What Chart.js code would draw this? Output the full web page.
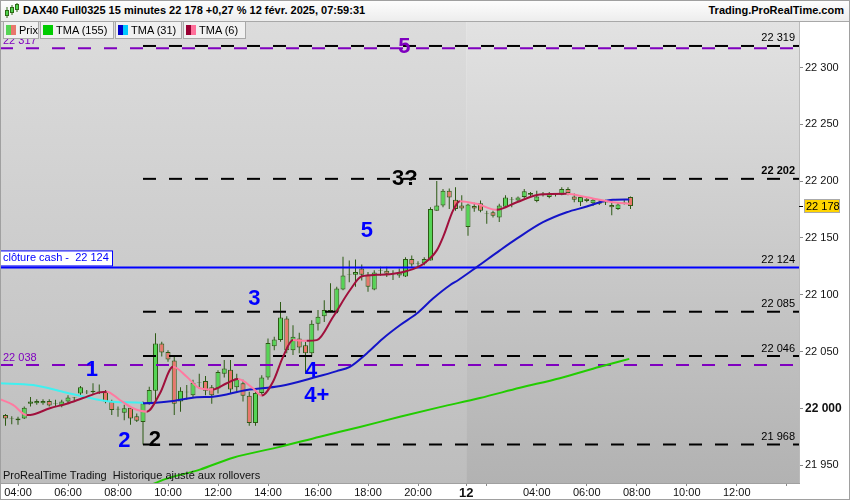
<!DOCTYPE html>
<html>
<head>
<meta charset="utf-8">
<title>DAX40 Full0325 15 minutes</title>
<script src="https://cdn.jsdelivr.net/npm/chart.js@4.4.1/dist/chart.umd.min.js"></script>
<style>
    body { margin: 0; width: 850px; height: 500px; overflow: hidden; background: #fff; position: relative;
           font-family: "Liberation Sans", Arial, sans-serif; color: #000; }
    #header { position: absolute; left: 0; top: 0; width: 850px; height: 21px;
              background: linear-gradient(#fefefe, #ededed); border-bottom: 1px solid #a8a8a8; }
    #icon { position: absolute; left: 4px; top: 3px; }
    #title { position: absolute; left: 23px; top: 4px; font-size: 11px; font-weight: bold; }
    #site { position: absolute; right: 6px; top: 4px; font-size: 11px; font-weight: bold; }
    #legend { position: absolute; left: 3px; top: 22px; display: flex; z-index: 2; }
    .item { height: 17px; box-sizing: border-box; border: 1px solid #a8a8a8; border-top: none;
            background: #f1f1f1; font-size: 11px; display: flex; align-items: center;
            padding-left: 2px; margin-right: 1px; white-space: nowrap; }
    .sw { width: 10px; height: 10px; display: flex; margin-right: 3px; }
    .sw span { flex: 1; }
    #chartBox { position: absolute; left: 0; top: 22px; }
    #frame { position: absolute; left: 0; top: 0; width: 850px; height: 500px; box-sizing: border-box;
             border: 1px solid #a0a0a0; pointer-events: none; z-index: 3; }
</style>
</head>
<body>
<div id="header">
    <svg id="icon" width="15" height="16">
        <line x1="3" y1="4" x2="3" y2="15" stroke="#2d6a14"/><rect x="1.5" y="7.5" width="3" height="5" fill="#4fd34f" stroke="#2d6a14"/>
        <line x1="8" y1="2" x2="8" y2="12" stroke="#2d6a14"/><rect x="6.5" y="4.5" width="3" height="5" fill="#4fd34f" stroke="#2d6a14"/>
        <line x1="13" y1="0" x2="13" y2="9" stroke="#2d6a14"/><rect x="11.5" y="1.5" width="3" height="5" fill="#4fd34f" stroke="#2d6a14"/>
    </svg>
    <div id="title">DAX40 Full0325 15 minutes 22 178 +0,27 % 12 févr. 2025, 07:59:31</div>
    <div id="site">Trading.ProRealTime.com</div>
</div>
<div id="legend">
    <div class="item" style="width:36px"><div class="sw"><span style="background:#55d455"></span><span style="background:#e8776c"></span></div>Prix</div>
    <div class="item" style="width:74px"><div class="sw"><span style="background:#00cc00"></span><span style="background:#00cc00"></span></div>TMA (155)</div>
    <div class="item" style="width:67px"><div class="sw"><span style="background:#0000c8"></span><span style="background:#00c8ff"></span></div>TMA (31)</div>
    <div class="item" style="width:63px"><div class="sw"><span style="background:#990033"></span><span style="background:#ff6f9a"></span></div>TMA (6)</div>
</div>
<div id="chartBox"><canvas id="chart" width="850" height="478"></canvas></div>
<div id="frame"></div>

<script>
// ---- candles (15 min, index 0 = 11 févr. 03:30) ----
const opens = [
    21994, 21990.5, 21989.5, 21991, 22004, 22004.5, 22004.5, 22006.5, 22004, 22002.5,
    22006, 22009, 22013, 22014, 22014, 22014.5, 22014.5, 22006, 21999, 21996,
    22000.5, 21993, 21988, 22004.5, 22015.5, 22057, 22049.5, 22042, 22006, 22014,
    22011.5, 22022.5, 22024, 22018.5, 22017.5, 22030.5, 22034, 22018.5, 22022, 22011,
    21987, 22013.5, 22027, 22054.5, 22060, 22079, 22051, 22061.5, 22055.5, 22048.5,
    22074.5, 22081, 22085, 22085, 22104.5, 22117.5, 22117.5, 22123, 22117.5, 22104.5,
    22121, 22121, 22118.5, 22117, 22116, 22131.5, 22127.5, 22127.5, 22130, 22174,
    22178.5, 22191.5, 22183.5, 22178.5, 22159.5, 22178, 22180.5, 22171.5, 22172.5, 22168,
    22177.5, 22183.5, 22183, 22186, 22189.5, 22182.5, 22188.5, 22186, 22188, 22188,
    22193, 22186.5, 22181.5, 22184.5, 22180.5, 22181.5, 22181, 22179, 22175.5, 22181,
    22186
];
const highs = [
    21995, 21993, 21992.5, 22001.5, 22010, 22008, 22008, 22008, 22007.5, 22007.5,
    22011.5, 22010, 22019.5, 22016, 22022, 22021, 22016, 22007.5, 22001.5, 22003,
    22001.5, 21995.5, 22006, 22019, 22066, 22058.5, 22051, 22045.5, 22018.5, 22020.5,
    22025, 22030.5, 22028.5, 22020.5, 22033.5, 22042.5, 22042.5, 22030.5, 22025, 22014.5,
    22016, 22029, 22061.5, 22063, 22093.5, 22081, 22073, 22066.5, 22058.5, 22077.5,
    22086.5, 22095, 22110, 22107, 22133.5, 22130, 22131, 22126.5, 22120, 22121.5,
    22124.5, 22124.5, 22121.5, 22123, 22133, 22134.5, 22129.5, 22133, 22177, 22200,
    22193, 22193.5, 22194.5, 22187.5, 22180, 22181, 22183, 22174, 22174, 22180,
    22187.5, 22186, 22186.5, 22193, 22190.5, 22191.5, 22190.5, 22190.5, 22189.5, 22194.5,
    22194.5, 22189, 22187.5, 22186, 22185, 22183.5, 22183.5, 22182.5, 22181, 22183.5,
    22186.5
];
const lows = [
    21984.5, 21986, 21985.5, 21990.5, 22001.5, 22003, 22003, 22001.5, 22001.5, 22001,
    22004.5, 22006, 22011.5, 22012.5, 22012.5, 22012.5, 22004.5, 21994, 21992.5, 21989.5,
    21985.5, 21988, 21968, 22003, 22006, 22045.5, 22041, 21994, 21997, 22007.5,
    22010, 22017.5, 22011.5, 22004, 22013, 22027, 22012.5, 22014.5, 22006, 21984.5,
    21984.5, 22011.5, 22025, 22051, 22058.5, 22048.5, 22047, 22048.5, 22030.5, 22045.5,
    22068.5, 22076, 22084.5, 22083.5, 22104, 22111, 22107, 22112.5, 22102.5, 22104,
    22117, 22115.5, 22113, 22115, 22115.5, 22124.5, 22124.5, 22126, 22130, 22174,
    22177, 22175.5, 22174, 22174, 22152, 22173, 22172.5, 22162.5, 22168, 22164,
    22177, 22177, 22182, 22185, 22187, 22181.5, 22186.5, 22185, 22186.5, 22187.5,
    22187.5, 22181.5, 22178, 22181.5, 22178, 22179, 22179, 22170, 22174.5, 22179.5,
    22175.5
];
const closes = [
    21991, 21991, 21991, 22000.5, 22006, 22006.5, 22006.5, 22002.5, 22004.5, 22006,
    22009.5, 22009.5, 22018.5, 22014.5, 22015.5, 22015, 22006, 21998.5, 21999.5, 22000,
    21991, 21989, 22004.5, 22016, 22057, 22049, 22043, 22004, 22015.5, 22014.5,
    22022.5, 22023, 22015.5, 22011.5, 22032, 22035, 22016.5, 22026.5, 22011, 21987,
    22013.5, 22027, 22057.5, 22060.5, 22080, 22051, 22063, 22053.5, 22048.5, 22074.5,
    22080.5, 22086.5, 22086.5, 22105.5, 22117, 22118, 22120, 22117.5, 22107, 22119.5,
    22121.5, 22118.5, 22119, 22119.5, 22131.5, 22126.5, 22128, 22131.5, 22175.5, 22178.5,
    22191.5, 22185.5, 22175.5, 22176, 22179.5, 22176, 22174, 22172, 22169.5, 22178.5,
    22185.5, 22184, 22185.5, 22191, 22188, 22186.5, 22189, 22189, 22188.5, 22193,
    22189.5, 22183.5, 22186, 22182.5, 22183.5, 22180, 22181.5, 22177, 22179.5, 22181.5,
    22178
];

// ---- moving averages: [candle index, value] ----
const tma155 = [
    [23.5, 21933], [25.2, 21937], [31.1, 21946], [36.4, 21956.5], [43.9, 21966], [50.3, 21975],
    [56.7, 21983.5], [63.1, 21992.5], [69.5, 22001], [75.9, 22009], [82.3, 22018], [88.7, 22026.5],
    [95.1, 22036.5], [99.8, 22043.5]
];
const tma31 = [
    [-0.9, 22022], [4.4, 22020.5], [9.8, 22013.7], [15.1, 22007.3], [18.3, 22005.3], [21.8, 22004.9],
    [22, 22004.4], [26.8, 22006.4], [30.6, 22009.7], [33.2, 22010.2], [38.6, 22016.1], [44, 22019.6],
    [49.8, 22027.7], [53, 22032.7], [55.1, 22036.5], [57.8, 22048.3], [60.4, 22061.5], [63.1, 22073.1],
    [65.8, 22083.4], [68.4, 22096.6], [71.1, 22108.3], [72.4, 22112.7], [75.4, 22124.3], [79.1, 22139],
    [81.8, 22149.3], [86, 22163.8], [89.8, 22172.6], [93, 22177.6], [95.1, 22181.4], [97.2, 22183.5],
    [99.8, 22183.8]
];
const tma6 = [
    [-0.9, 22008], [1.2, 22003], [3.4, 21994], [4.4, 21994.5], [7.1, 22000], [9.8, 22004],
    [12.4, 22009], [15.1, 22014], [16.2, 22014.6], [18.3, 22007.3], [20.4, 22000], [22.6, 21997],
    [24.7, 22013], [26.8, 22036.5], [29, 22027.7], [31.1, 22017.6], [33.2, 22016.5], [35.4, 22022],
    [37.2, 22025.7], [39.6, 22017.6], [41, 22011.2], [42.8, 22023.4], [44.4, 22045.3], [46, 22060],
    [48.2, 22059.4], [49.8, 22060], [52.4, 22080.4], [55.1, 22103.9], [57, 22116.2], [59.4, 22117.5],
    [61.5, 22118], [64.2, 22120.8], [66.9, 22127.3], [69, 22139], [70.1, 22152], [71.6, 22174],
    [72.7, 22182.3], [75.4, 22180], [78.6, 22174.7], [81.8, 22181.4], [85.5, 22188.2], [89.8, 22188.8],
    [93, 22185.8], [97.2, 22181.4], [99.8, 22180]
];

// ---- levels ----
const blackLevels = [22319, 22202, 22085, 22046, 21968];
const blackBold = [false, true, false, false, false];
const blackStart = 22;
const purpleLevels = [22317, 22038];
const cashLevel = 22124;
const lastPrice = 22178;

// ---- hand written marks on the chart ----
const noteText = ['5', '3?', '5', '3', '1', '4', '4+', '2', '2'];
const noteIdx = [63.8, 63.9, 57.8, 39.8, 13.8, 48.9, 49.8, 19, 23.9];
const noteVal = [22318, 22202, 22156.5, 22096, 22033.5, 22032.5, 22011, 21971.5, 21972];
const noteColor = ['#7f00bf', '#000', '#0000ff', '#0000ff', '#0000ff', '#0000ff', '#0000ff', '#0000ff', '#000'];

// ---- axes ----
const xTickPos = [2, 10, 18, 26, 34, 42, 50, 58, 66, 73.7, 77, 85, 93, 101, 109, 117, 125];
const xTickLabels = ['04:00', '06:00', '08:00', '10:00', '12:00', '14:00', '16:00', '18:00', '20:00',
                     '12', '', '04:00', '06:00', '08:00', '10:00', '12:00', ''];
const yTicks = [21950, 22000, 22050, 22100, 22150, 22200, 22250, 22300];
const X_MIN = -0.88, X_MAX = 126.96;
const Y_MIN = 21934.2, Y_MAX = 22340.1;
const dayBreak = 73.7;

const FONT = '"Liberation Sans", Arial, sans-serif';
const UP = '#55d455', DOWN = '#e8776c', EDGE = '#2d5a14';

function fmt(v) {
    return String(Math.round(v)).replace(/\B(?=(\d{3})+(?!\d))/g, ' ');
}

const idx = closes.map((c, i) => i);
const pts = arr => arr.map(p => ({ x: p[0], y: p[1] }));
const levelLine = (v, from) => [{ x: from, y: v }, { x: X_MAX, y: v }];

const datasets = [];

// moving averages (drawn on top)
datasets.push({
    type: 'line', data: pts(tma6), borderWidth: 2, pointRadius: 0, order: 1,
    cubicInterpolationMode: 'monotone',
    segment: { borderColor: c => c.p1.parsed.y >= c.p0.parsed.y ? '#a0103c' : '#ff7aa0' }
});
datasets.push({
    type: 'line', data: pts(tma31), borderWidth: 2, pointRadius: 0, order: 2,
    cubicInterpolationMode: 'monotone',
    segment: { borderColor: c => c.p1.parsed.y >= c.p0.parsed.y ? '#1414c8' : '#40f0f0' }
});
datasets.push({
    type: 'line', data: pts(tma155), borderWidth: 2, pointRadius: 0, order: 3,
    borderColor: '#22cc00', cubicInterpolationMode: 'monotone'
});

// horizontal levels
blackLevels.forEach(v => datasets.push({
    type: 'line', data: levelLine(v, blackStart), borderColor: '#000', borderWidth: 2,
    borderDash: [13, 13], pointRadius: 0, order: 5
}));
purpleLevels.forEach(v => datasets.push({
    type: 'line', data: levelLine(v, X_MIN), borderColor: '#7f00bf', borderWidth: 2,
    borderDash: [13, 13], pointRadius: 0, order: 6
}));
datasets.push({
    type: 'line', data: levelLine(cashLevel, X_MIN), borderColor: '#0000ff', borderWidth: 2,
    pointRadius: 0, order: 4
});

// candles: wick + body as floating bars
datasets.push({
    type: 'bar', data: idx.map(i => ({ x: i, y: [lows[i], highs[i]] })),
    backgroundColor: EDGE, grouped: false, maxBarThickness: 1, order: 11
});
datasets.push({
    type: 'bar', data: idx.map(i => ({ x: i, y: [opens[i], closes[i]] })),
    backgroundColor: idx.map(i => closes[i] >= opens[i] ? UP : DOWN),
    borderColor: EDGE, borderWidth: 1, borderSkipped: false, grouped: false,
    barPercentage: 1, categoryPercentage: 0.8, order: 10
});

const background = {
    id: 'background',
    beforeDraw(chart) {
        const { ctx, chartArea: a } = chart;
        const split = chart.scales.x.getPixelForValue(dayBreak);
        let g = ctx.createLinearGradient(0, a.top, 0, a.bottom);
        g.addColorStop(0, '#dcdcdc');
        g.addColorStop(1, '#bdbdbd');
        ctx.fillStyle = g;
        ctx.fillRect(a.left, a.top, split - a.left, a.bottom - a.top);
        g = ctx.createLinearGradient(0, a.top, 0, a.bottom);
        g.addColorStop(0, '#e2e2e2');
        g.addColorStop(1, '#b2b2b2');
        ctx.fillStyle = g;
        ctx.fillRect(split, a.top, a.right - split, a.bottom - a.top);
    }
};

const texts = {
    id: 'texts',
    afterDatasetsDraw(chart) {
        const { ctx, chartArea: a, scales: { x, y } } = chart;
        ctx.save();
        // level values on the right
        ctx.textAlign = 'right';
        ctx.textBaseline = 'bottom';
        ctx.fillStyle = '#000';
        blackLevels.forEach((v, k) => {
            ctx.font = (blackBold[k] ? 'bold ' : '') + '11px ' + FONT;
            ctx.fillText(fmt(v), a.right - 4, y.getPixelForValue(v) - 2);
        });
        ctx.font = '11px ' + FONT;
        ctx.fillText(fmt(cashLevel), a.right - 4, y.getPixelForValue(cashLevel) - 2);

        // purple values on the left
        ctx.textAlign = 'left';
        ctx.fillStyle = '#7f00bf';
        purpleLevels.forEach(v => ctx.fillText(fmt(v), 3, y.getPixelForValue(v) - 2));

        // cash close box
        const cy = y.getPixelForValue(cashLevel);
        ctx.fillStyle = '#fff';
        ctx.fillRect(a.left + 0.5, cy - 16.5, 112, 15);
        ctx.strokeStyle = '#0000ff';
        ctx.lineWidth = 1;
        ctx.strokeRect(a.left + 0.5, cy - 16.5, 112, 15);
        ctx.fillStyle = '#0000ff';
        ctx.textBaseline = 'middle';
        ctx.fillText('clôture cash -  ' + fmt(cashLevel), a.left + 3, cy - 9);

        // hand written marks
        ctx.textAlign = 'center';
        ctx.font = 'bold 22px ' + FONT;
        noteText.forEach((t, k) => {
            ctx.fillStyle = noteColor[k];
            ctx.fillText(t, x.getPixelForValue(noteIdx[k]), y.getPixelForValue(noteVal[k]));
        });

        // footer note
        ctx.textAlign = 'left';
        ctx.font = '11px ' + FONT;
        ctx.fillStyle = '#111';
        ctx.fillText('ProRealTime Trading  Historique ajusté aux rollovers', a.left + 3, a.bottom - 7);
        ctx.restore();
    },
    afterDraw(chart) {
        const { ctx, chartArea: a, scales: { y } } = chart;
        const py = Math.round(y.getPixelForValue(lastPrice));
        ctx.save();
        ctx.strokeStyle = '#bbb';
        ctx.lineWidth = 1;
        ctx.beginPath();
        ctx.moveTo(a.right + 0.5, 0); ctx.lineTo(a.right + 0.5, a.bottom);
        ctx.stroke();
        ctx.strokeStyle = '#000';
        ctx.beginPath();
        ctx.moveTo(a.right, py + 0.5); ctx.lineTo(a.right + 4, py + 0.5);
        ctx.stroke();
        ctx.fillStyle = '#ffd400';
        ctx.fillRect(a.right + 5.5, py - 6.5, 35, 13);
        ctx.strokeStyle = '#aaa';
        ctx.strokeRect(a.right + 5.5, py - 6.5, 35, 13);
        ctx.fillStyle = '#000';
        ctx.font = '11px ' + FONT;
        ctx.textAlign = 'left';
        ctx.textBaseline = 'middle';
        ctx.fillText(fmt(lastPrice), a.right + 7, py + 0.5);
        ctx.restore();
    }
};

new Chart(document.getElementById('chart'), {
    type: 'bar',
    data: { datasets: datasets },
    options: {
        responsive: false,
        animation: false,
        events: [],
        layout: { padding: 0 },
        plugins: { legend: { display: false }, tooltip: { enabled: false } },
        scales: {
            x: {
                type: 'linear', min: X_MIN, max: X_MAX, offset: false,
                grid: { drawOnChartArea: false, offset: false, tickLength: 3, color: '#888' },
                border: { color: '#a0a0a0' },
                afterBuildTicks: s => { s.ticks = xTickPos.map(v => ({ value: v })); },
                afterFit: s => { s.height = 17; s.paddingLeft = 0; s.paddingRight = 0; },
                ticks: {
                    autoSkip: false, maxRotation: 0, padding: 0, color: '#111',
                    callback: (v, i) => xTickLabels[i],
                    font: c => ({ family: FONT, size: xTickLabels[c.index] === '12' ? 13 : 11,
                                  weight: xTickLabels[c.index] === '12' ? 'bold' : 'normal' })
                }
            },
            y: {
                position: 'right', min: Y_MIN, max: Y_MAX,
                grid: { drawOnChartArea: false, tickLength: 4, color: '#888' },
                border: { display: false },
                afterBuildTicks: s => { s.ticks = yTicks.map(v => ({ value: v })); },
                afterFit: s => { s.width = 51; s.paddingTop = 0; s.paddingBottom = 0; },
                ticks: {
                    padding: 2, color: '#111',
                    callback: v => fmt(v),
                    font: c => ({ family: FONT, size: yTicks[c.index] === 22000 ? 12 : 11,
                                  weight: yTicks[c.index] === 22000 ? 'bold' : 'normal' })
                }
            }
        }
    },
    plugins: [background, texts]
});
</script>
</body>
</html>
